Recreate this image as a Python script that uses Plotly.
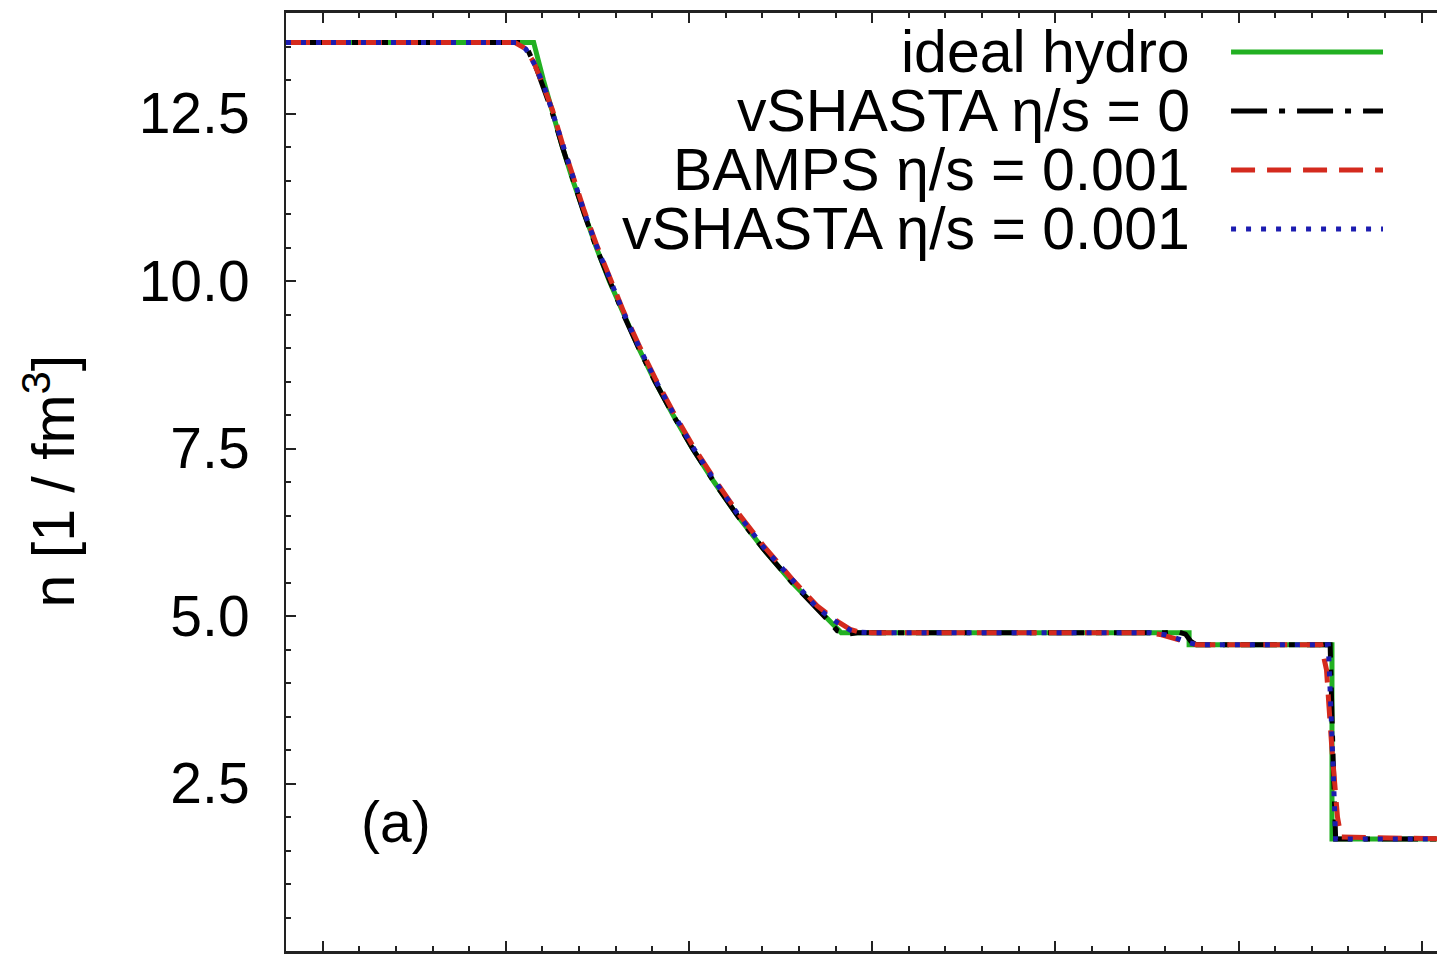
import plotly.graph_objects as go

# ---------------- data ----------------
series_names = ["ideal hydro", "vSHASTA η/s = 0", "BAMPS η/s = 0.001", "vSHASTA η/s = 0.001"]

ideal_x = [-3.2, -1.848, -1.795, -1.745, -1.691, -1.634, -1.572, -1.506, -1.435, -1.358,
           -1.275, -1.185, -1.087, -0.981, -0.863, -0.736, -0.594, -0.437, -0.263, -0.169,
           1.73, 1.73, 2.51, 2.51, 3.2]
ideal_n = [13.56, 13.56, 13.0, 12.5, 12.0, 11.5, 11.0, 10.5, 10.0, 9.5,
           9.0, 8.5, 8.0, 7.5, 7.0, 6.5, 6.0, 5.5, 5.0, 4.75,
           4.75, 4.57, 4.57, 1.67, 1.67]

vsh0_x = [-3.2, -1.92, -1.88, -1.83, -1.79, -1.745, -1.691, -1.634, -1.572, -1.506, -1.435,
          -1.358, -1.275, -1.185, -1.087, -0.981, -0.863, -0.736, -0.594, -0.437, -0.263,
          -0.19, -0.14, -0.08, 1.60, 1.66, 1.71, 1.74, 1.77, 2.50, 2.515, 2.53, 3.2]
vsh0_n = [13.56, 13.56, 13.45, 13.15, 12.85, 12.5, 12.0, 11.5, 11.0, 10.5, 10.0,
          9.5, 9.0, 8.5, 8.0, 7.5, 7.0, 6.5, 6.0, 5.5, 5.0,
          4.78, 4.73, 4.75, 4.75, 4.77, 4.73, 4.62, 4.57, 4.57, 3.0, 1.67, 1.67]

bamps_x = [-3.2, -1.95, -1.90, -1.85, -1.80, -1.745, -1.691, -1.634, -1.572, -1.506, -1.435,
           -1.358, -1.275, -1.185, -1.087, -0.981, -0.863, -0.736, -0.594, -0.437, -0.30,
           -0.19, -0.12, -0.07, 0.0, 1.50, 1.58, 1.65, 1.72, 1.77, 2.45, 2.48, 2.51, 2.54,
           2.56, 3.2]
bamps_n = [13.56, 13.56, 13.48, 13.28, 12.95, 12.55, 12.05, 11.55, 11.05, 10.55, 10.05,
           9.55, 9.05, 8.55, 8.05, 7.55, 7.05, 6.55, 6.05, 5.55, 5.15,
           4.92, 4.80, 4.76, 4.75, 4.75, 4.72, 4.66, 4.60, 4.57, 4.57, 4.2, 3.0, 2.0,
           1.70, 1.67]

vsh1_x = [-3.2, -1.94, -1.89, -1.84, -1.79, -1.745, -1.691, -1.634, -1.572, -1.506, -1.435,
          -1.358, -1.275, -1.185, -1.087, -0.981, -0.863, -0.736, -0.594, -0.437, -0.30,
          -0.19, -0.12, -0.07, 0.0, 1.52, 1.60, 1.67, 1.73, 1.78, 2.49, 2.51, 2.53, 3.2]
vsh1_n = [13.56, 13.56, 13.46, 13.22, 12.9, 12.52, 12.03, 11.53, 11.03, 10.53, 10.03,
          9.53, 9.03, 8.53, 8.03, 7.53, 7.03, 6.53, 6.03, 5.53, 5.12,
          4.90, 4.79, 4.76, 4.75, 4.75, 4.72, 4.66, 4.60, 4.57, 4.57, 3.2, 1.67, 1.67]

y_tick_vals = [2.5, 5.0, 7.5, 10.0, 12.5]
y_tick_text = ["2.5", "5.0", "7.5", "10.0", "12.5"]
x_tick_vals = [-3, -2, -1, 0, 1, 2, 3]

# ---------------- styles ----------------
colors = ["#22b022", "#000000", "#d42a1e", "#1c1cb0"]
dashes = ["solid", "36px,12px,6px,12px", "24px,12px", "5px,10px"]
LW = 5
FONT = "Liberation Sans, Arial, Helvetica, sans-serif"
FS = 57
FS_LEG = 59

fig = go.Figure()
for xs, ns, name, c, d in zip([ideal_x, vsh0_x, bamps_x, vsh1_x],
                              [ideal_n, vsh0_n, bamps_n, vsh1_n],
                              series_names, colors, dashes):
    fig.add_trace(go.Scatter(x=xs, y=ns, mode="lines", name=name,
                             line=dict(color=c, width=LW, dash=d),
                             showlegend=False))

# legend drawn manually (text right-aligned, sample line to its right)
row_y = [0.9584, 0.8955, 0.8326, 0.7697]
for name, c, d, yy in zip(series_names, colors, dashes, row_y):
    fig.add_annotation(xref="paper", yref="paper", x=0.7817, y=yy, text=name,
                       showarrow=False, xanchor="right", yanchor="middle",
                       font=dict(family=FONT, size=FS_LEG, color="black"))
    fig.add_shape(type="line", xref="paper", yref="paper", x0=0.8154, x1=0.9465,
                  y0=yy, y1=yy, line=dict(color=c, width=LW, dash=d))

# panel label
fig.add_annotation(x=-2.8, y=1.93, text="(a)", showarrow=False, xanchor="left",
                   yanchor="middle", font=dict(family=FONT, size=FS, color="black"))

# y-axis title
fig.add_annotation(xref="paper", yref="paper", x=-0.2032, y=0.5011,
                   text="n [1 / fm<sup>3</sup>]", textangle=-90, showarrow=False,
                   xanchor="center", yanchor="middle",
                   font=dict(family=FONT, size=59, color="black"))

# page body has an 8px margin: figure is shifted accordingly
fig.update_layout(
    width=1437, height=952,
    margin=dict(l=278, r=0, t=5, b=9),
    paper_bgcolor="white", plot_bgcolor="white",
    font=dict(family=FONT, size=FS, color="black"),
    xaxis=dict(range=[-3.2, 3.127], showgrid=False, zeroline=False,
               showline=True, linecolor="#222", linewidth=2.5, mirror="allticks",
               ticks="inside", ticklen=10, tickwidth=2, tickcolor="#222",
               tickvals=x_tick_vals, showticklabels=False,
               minor=dict(ticks="inside", ticklen=5, tickwidth=2, tickcolor="#222",
                          dtick=0.2, tick0=0, showgrid=False)),
    yaxis=dict(range=[0, 14], showgrid=False, zeroline=False,
               showline=True, linecolor="#222", linewidth=2, mirror=False,
               ticks="inside", ticklen=10, tickwidth=2, tickcolor="#222",
               tickvals=y_tick_vals, ticktext=y_tick_text,
               ticklabelstandoff=23,
               tickfont=dict(family=FONT, size=FS, color="black"),
               minor=dict(ticks="inside", ticklen=5, tickwidth=2, tickcolor="#222",
                          dtick=0.5, tick0=0, showgrid=False)),
)

fig.write_html("out.html")
